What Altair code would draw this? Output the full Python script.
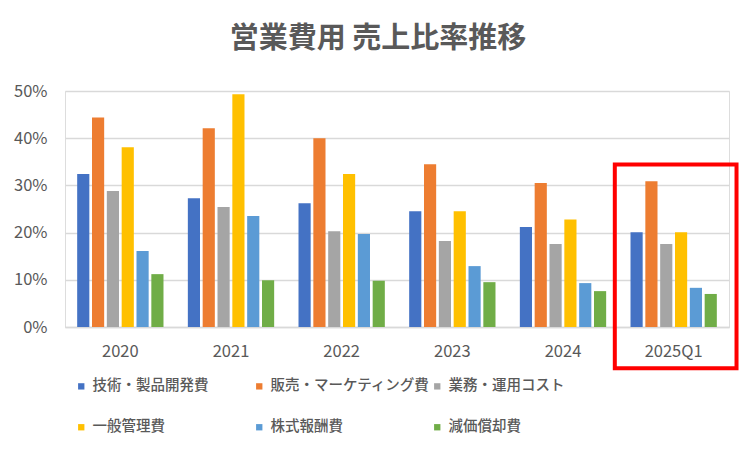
import altair as alt
import pandas as pd

# ---- data ----
periods = ["2020", "2021", "2022", "2023", "2024", "2025Q1"]
series = ["技術・製品開発費", "販売・マーケティング費", "業務・運用コスト",
          "一般管理費", "株式報酬費", "減価償却費"]
colors = ["#4472C4", "#ED7D31", "#A5A5A5", "#FFC000", "#5B9BD5", "#70AD47"]

rd_pct = [32.4, 27.3, 26.2, 24.5, 21.2, 20.1]
sales_pct = [44.4, 42.1, 40.0, 34.5, 30.5, 30.9]
ops_pct = [28.8, 25.4, 20.3, 18.2, 17.6, 17.6]
ga_pct = [38.1, 49.3, 32.4, 24.5, 22.8, 20.1]
sbc_pct = [16.1, 23.5, 19.7, 12.9, 9.3, 8.3]
dep_pct = [11.2, 9.9, 9.8, 9.5, 7.6, 7.0]

y_ticks = [0, 0.1, 0.2, 0.3, 0.4, 0.5]

# highlight box around the latest period
highlight_period = ["2025Q1"]
highlight_top = [0.3445]
highlight_bottom = [-0.0875]

title_text = "営業費用 売上比率推移"

# ---- build tables ----
values = [rd_pct, sales_pct, ops_pct, ga_pct, sbc_pct, dep_pct]
rows = []
for s, vals in zip(series, values):
    for p, v in zip(periods, vals):
        rows.append({"period": p, "series": s, "value": v / 100})
df = pd.DataFrame(rows)
hl = pd.DataFrame({"period": highlight_period, "top": highlight_top, "bottom": highlight_bottom})

FONT = "Noto Sans CJK JP"
TXT = "#595959"

x_enc = alt.X("period:N", sort=periods, title=None,
              scale=alt.Scale(paddingInner=0.22, paddingOuter=0.11),
              axis=alt.Axis(labelAngle=0, ticks=False, domainColor="#D9D9D9",
                            domainWidth=1.5, labelPadding=16, labelFontSize=16.5,
                            labelColor=TXT, labelFont=FONT))
y_scale = alt.Scale(domain=[0, 0.5], nice=False)

bars = alt.Chart(df).mark_bar().encode(
    x=x_enc,
    xOffset=alt.XOffset("series:N", sort=series, scale=alt.Scale(paddingInner=0.18)),
    y=alt.Y("value:Q", scale=y_scale, title=None,
            axis=alt.Axis(values=y_ticks, format=".0%", domain=False, ticks=False,
                          gridColor="#D9D9D9", gridWidth=1.5, labelPadding=18,
                          labelFontSize=16.5, labelColor=TXT, labelFont=FONT)),
    color=alt.Color("series:N", sort=series,
                    scale=alt.Scale(domain=series, range=colors),
                    legend=alt.Legend(title=None, orient="none", legendX=9, legendY=288,
                                      direction="horizontal", columns=3, gridAlign="all",
                                      symbolType="square", symbolSize=40,
                                      symbolStrokeWidth=0, labelFont=FONT,
                                      labelFontSize=14.5, labelFontWeight=500,
                                      labelColor=TXT, labelLimit=300,
                                      labelOffset=4, columnPadding=-2, rowPadding=26)),
)

box = alt.Chart(hl).mark_rect(fill=None, stroke="#FF0000", strokeWidth=4,
                              width=alt.RelativeBandSize(1.41), xOffset=2).encode(
    x=alt.X("period:N", sort=periods, title=None),
    y=alt.Y("top:Q", scale=y_scale, title=None),
    y2="bottom:Q",
)

chart = alt.layer(bars, box).properties(
    width=664, height=236,
    autosize=alt.AutoSizeParams(type="none"),
    padding={"left": 57, "top": 83, "right": 16, "bottom": 117},
    title=alt.Title(title_text, font=FONT, fontSize=29, fontWeight="bold", color=TXT,
                    anchor="middle", dx=-19, offset=29),
).configure_view(stroke=None).configure(background="white")

chart.save("out.html", embed_options={"renderer": "svg", "actions": False})
